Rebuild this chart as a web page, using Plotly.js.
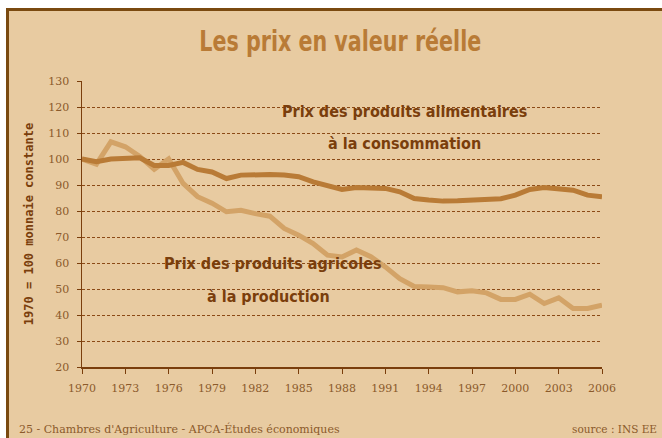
<!DOCTYPE html>
<html><head><meta charset="utf-8">
<script src="https://cdn.plot.ly/plotly-3.0.1.min.js"></script>
<style>
html,body{margin:0;padding:0;background:#fff;width:662px;height:438px;overflow:hidden;}
#frame{position:absolute;left:6px;top:8px;width:700px;height:480px;background:#E8CBA1;border-left:3px solid #7A4A10;border-top:3px solid #7A4A10;box-sizing:border-box;}
#chart{position:absolute;left:0;top:0;width:662px;height:438px;}
</style></head>
<body>
<div id="frame"></div>
<div id="chart"></div>
<script>
const years = [];
for (let y = 1970; y <= 2006; y++) years.push(y);
const consommation = [100, 99, 100, 100.2, 100.5, 97.5, 97.5, 98.7, 96, 95, 92.5, 93.8, 94, 94, 93.8, 93.2, 91.2, 89.6, 88.3, 89, 89, 88.7, 87.4, 84.8, 84.2, 83.8, 83.9, 84.2, 84.5, 84.7, 86.1, 88.3, 89, 88.7, 88, 86.1, 85.5];
const production = [100, 98, 106.6, 104.7, 101, 96, 100, 90.6, 85.5, 83, 79.7, 80.3, 79, 78, 73.3, 70.7, 67.5, 63, 62.3, 65, 62.4, 58.5, 54, 51, 50.8, 50.5, 48.9, 49.3, 48.5, 46, 46, 48, 44.4, 46.6, 42.5, 42.5, 43.8];
const xTicks = [1970, 1973, 1976, 1979, 1982, 1985, 1988, 1991, 1994, 1997, 2000, 2003, 2006];
const yTicks = [20, 30, 40, 50, 60, 70, 80, 90, 100, 110, 120, 130];

const brownDark = '#7A3E0C';
const tickFont = {family: '"DejaVu Serif", "Liberation Serif", serif', size: 11, color: '#8B5A2B'};
const boldNarrow = '"Liberation Sans Narrow", "DejaVu Sans Condensed", "Roboto", sans-serif';

const traces = [
  {x: years, y: production, type: 'scatter', mode: 'lines', line: {color: '#D3A367', width: 5}, hoverinfo: 'skip'},
  {x: years, y: consommation, type: 'scatter', mode: 'lines', line: {color: '#B97B36', width: 5}, hoverinfo: 'skip'}
];

const layout = {
  width: 662, height: 438,
  margin: {l: 82, r: 60, t: 81, b: 71},
  paper_bgcolor: 'rgba(0,0,0,0)',
  plot_bgcolor: 'rgba(0,0,0,0)',
  showlegend: false,
  title: {text: '<b>Les prix en valeur réelle</b>', x: 0.514, xanchor: 'center', y: 0.905, yanchor: 'middle',
          font: {family: boldNarrow, size: 28, color: '#B97B36'}},
  xaxis: {range: [1970, 2006], tickvals: xTicks, ticktext: xTicks.map(String), showgrid: false, zeroline: false,
          showline: true, linecolor: '#7A3E0C', linewidth: 1.5, ticks: 'outside', ticklen: 5, tickcolor: '#7A3E0C',
          ticklabelstandoff: 5, tickfont: tickFont, fixedrange: true},
  yaxis: {range: [20, 130], tickvals: yTicks, ticktext: yTicks.map(String), showgrid: true, gridcolor: '#8B4A16',
          griddash: '3px,2px', gridwidth: 1, zeroline: false, showline: true, linecolor: '#7A3E0C', linewidth: 1.5,
          ticks: 'outside', ticklen: 4, tickcolor: '#7A3E0C', ticklabelstandoff: 5, tickfont: tickFont, fixedrange: true,
          title: {text: '<b>1970 = 100 monnaie constante</b>', standoff: 12,
                  font: {family: '"DejaVu Sans Mono", monospace', size: 12, color: brownDark}}},
  annotations: [
    {text: '<b>Prix des produits alimentaires</b>', x: 1992.3, y: 118.2, xref: 'x', yref: 'y', showarrow: false,
     font: {family: boldNarrow, size: 16, color: brownDark}},
    {text: '<b>à la consommation</b>', x: 1992.3, y: 106, xref: 'x', yref: 'y', showarrow: false,
     font: {family: boldNarrow, size: 16, color: brownDark}},
    {text: '<b>Prix des produits agricoles</b>', x: 1983.2, y: 59.8, xref: 'x', yref: 'y', showarrow: false,
     font: {family: boldNarrow, size: 16, color: brownDark}},
    {text: '<b>à la production</b>', x: 1982.9, y: 47, xref: 'x', yref: 'y', showarrow: false,
     font: {family: boldNarrow, size: 16, color: brownDark}},
    {text: '<b>' + Math.round(consommation[consommation.length - 1]) + '</b>', x: 2008.1, y: 91.2, xref: 'x', yref: 'y', showarrow: false,
     font: {family: boldNarrow, size: 16, color: brownDark}},
    {text: '<b>' + Math.round(production[production.length - 1]) + '</b>', x: 2008.1, y: 44.4, xref: 'x', yref: 'y', showarrow: false,
     font: {family: boldNarrow, size: 16, color: brownDark}},
    {text: '25 - Chambres d\'Agriculture - APCA-Études économiques', x: 17, y: 429, xref: 'paper', yref: 'paper',
     showarrow: false, xanchor: 'left', yanchor: 'middle',
     font: {family: '"DejaVu Serif", serif', size: 11, color: '#8B5A2B'}},
    {text: 'source : INS EE', x: 659, y: 429, xref: 'paper', yref: 'paper',
     showarrow: false, xanchor: 'right', yanchor: 'middle',
     font: {family: '"DejaVu Serif", serif', size: 10.5, color: '#8B5A2B'}}
  ]
};
const pw = 662 - 82 - 60, ph = 438 - 81 - 71;
layout.annotations.forEach(a => {
  if (a.xref === 'paper') { a.x = (a.x - 82) / pw; a.y = (438 - 71 - a.y) / ph; }
});
Plotly.newPlot('chart', traces, layout, {displayModeBar: false, staticPlot: true}).then(gd => {
  // narrow the title horizontally to mimic the condensed face
  const t = gd.querySelector('.gtitle');
  if (t) {
    const cx = parseFloat(t.getAttribute('x'));
    t.setAttribute('transform', 'translate(' + cx + ',0) scale(0.82,1) translate(' + (-cx) + ',0)');
  }
});
</script>
</body></html>
